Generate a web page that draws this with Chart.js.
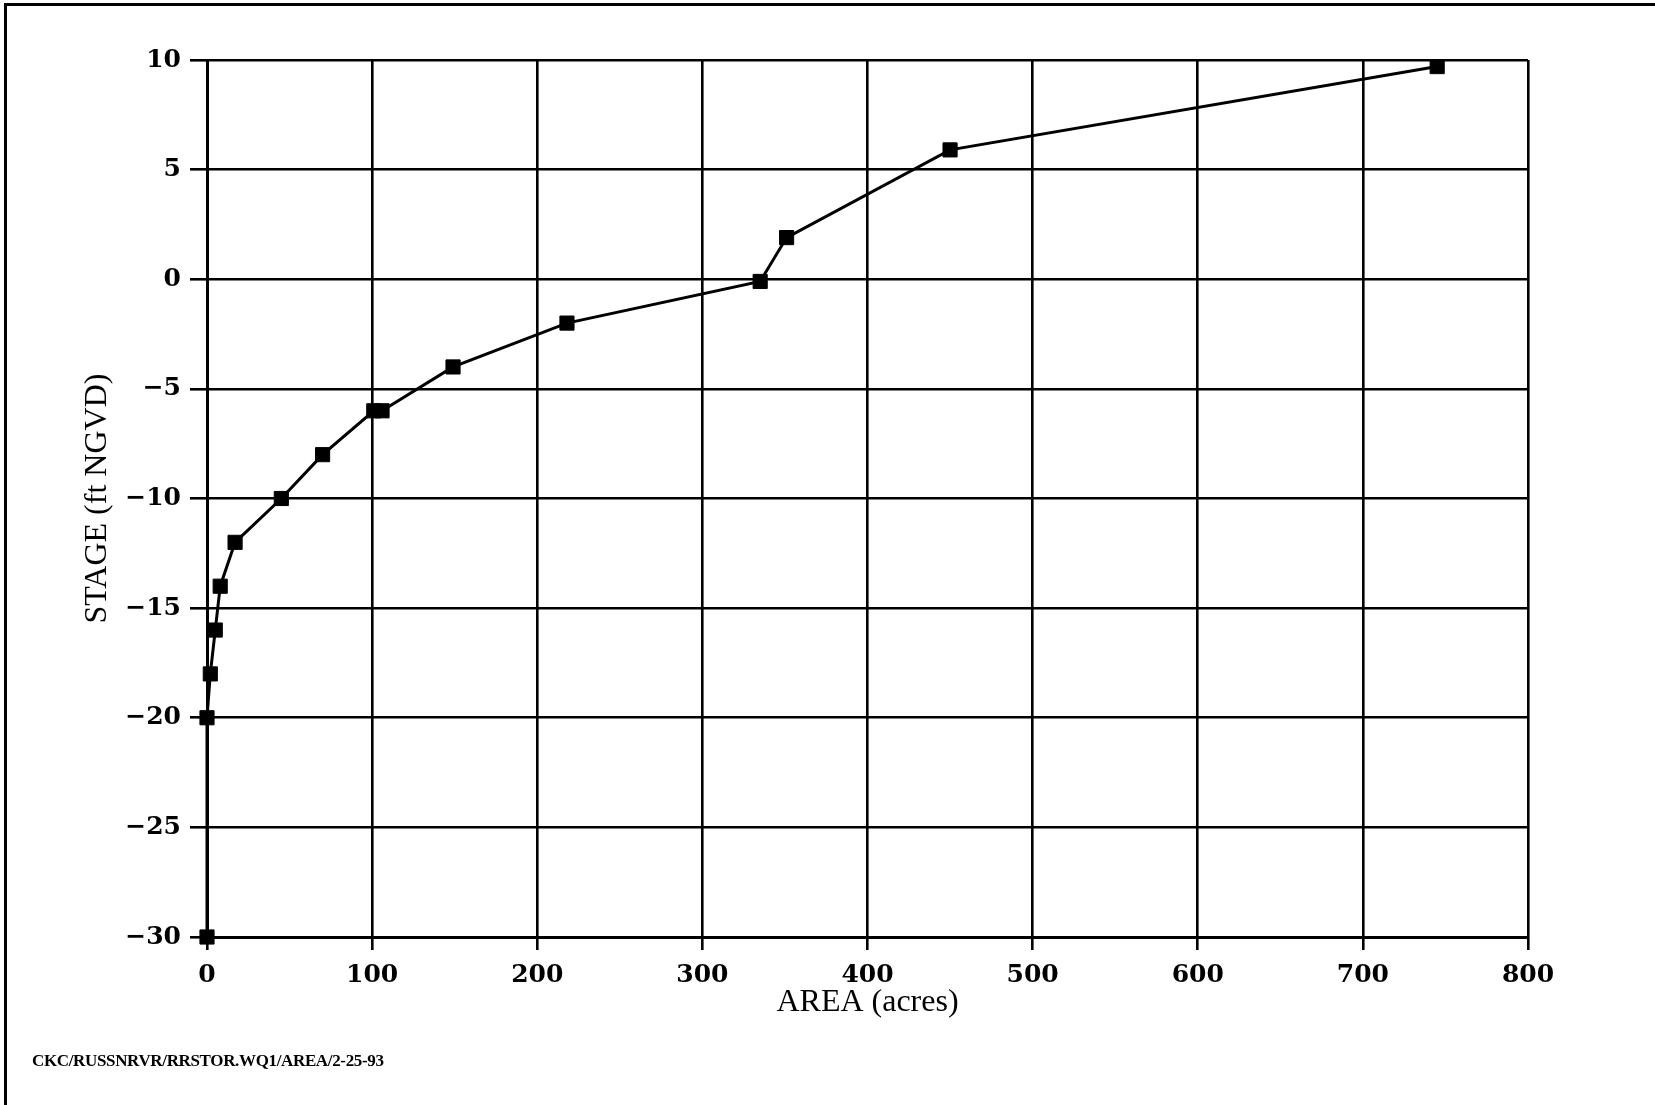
<!DOCTYPE html>
<html>
<head>
<meta charset="utf-8">
<title>Stage - Area</title>
<script src="https://cdn.jsdelivr.net/npm/chart.js@4/dist/chart.umd.min.js"></script>
<style>
    body { margin: 0; background: #fff; }
    #frame {
        position: absolute; left: 4px; top: 3px; width: 1651px; height: 1102px;
        border-top: 3px solid #000; border-left: 3px solid #000;
    }
    #wrap { position: absolute; left: 0; top: 0; width: 1655px; height: 1105px; }
    #note {
        position: absolute; left: 32px; top: 1051px;
        font: bold 17px "Liberation Serif", serif; letter-spacing: -0.35px; color: #000;
    }
</style>
</head>
<body>
<div id="frame"></div>
<div id="wrap"><canvas id="stageChart"></canvas></div>
<div id="note">CKC/RUSSNRVR/RRSTOR.WQ1/AREA/2-25-93</div>
<script>
// stage-area curve
const area = [0, 0, 2, 5, 8, 17, 45, 70, 101, 106, 149, 218, 335, 351, 450, 745];
const stage = [-30, -20, -18, -16, -14, -12, -10, -8, -6, -6, -4, -2, -0.1, 1.9, 5.9, 9.7];

const xTicks = [0, 100, 200, 300, 400, 500, 600, 700, 800];
const yTicks = [-30, -25, -20, -15, -10, -5, 0, 5, 10];

const points = area.map(function(a, i) { return { x: a, y: stage[i] }; });

const tickFont = { family: '"DejaVu Serif", serif', size: 25, weight: 'bold' };
const titleFont = { family: '"Liberation Serif", serif', size: 32, weight: 'normal' };

// long dash for negatives, like the original print
function fmt(v) { return v < 0 ? '\u2212' + Math.abs(v) : String(v); }

const ctx = document.getElementById('stageChart').getContext('2d');
new Chart(ctx, {
    type: 'scatter',
    data: {
        datasets: [{
            data: points,
            showLine: true,
            clip: false,
            borderColor: '#000',
            borderWidth: 3,
            backgroundColor: '#000',
            pointStyle: 'rect',
            pointRadius: 10,
            pointBorderWidth: 1,
            pointBorderColor: '#000',
            tension: 0
        }]
    },
    options: {
        responsive: true,
        maintainAspectRatio: false,
        animation: false,
        layout: { padding: { left: 78, top: 60, right: 127, bottom: 58 } },
        plugins: {
            legend: { display: false },
            tooltip: { enabled: false }
        },
        scales: {
            x: {
                type: 'linear',
                min: 0,
                max: 800,
                afterBuildTicks: function(scale) {
                    scale.ticks = xTicks.map(function(v) { return { value: v }; });
                },
                afterFit: function(scale) { scale.height = 110; },
                grid: { color: '#000', lineWidth: 2.6, tickLength: 13, tickColor: '#000' },
                border: { color: '#000', width: 3 },
                ticks: { color: '#000', font: tickFont, padding: 10, maxRotation: 0, callback: fmt },
                title: {
                    display: true, text: 'AREA (acres)', color: '#000',
                    font: titleFont, padding: { top: 0, bottom: 25 }
                }
            },
            y: {
                type: 'linear',
                min: -30,
                max: 10,
                afterBuildTicks: function(scale) {
                    scale.ticks = yTicks.map(function(v) { return { value: v }; });
                },
                afterFit: function(scale) { scale.width = 129; },
                grid: { color: '#000', lineWidth: 2.6, tickLength: 17, tickColor: '#000' },
                border: { color: '#000', width: 3 },
                ticks: { color: '#000', font: tickFont, padding: 9, callback: fmt },
                title: {
                    display: true, text: 'STAGE (ft NGVD)', color: '#000',
                    font: titleFont, padding: { top: 0, bottom: 0 }
                }
            }
        }
    }
});
</script>
</body>
</html>
